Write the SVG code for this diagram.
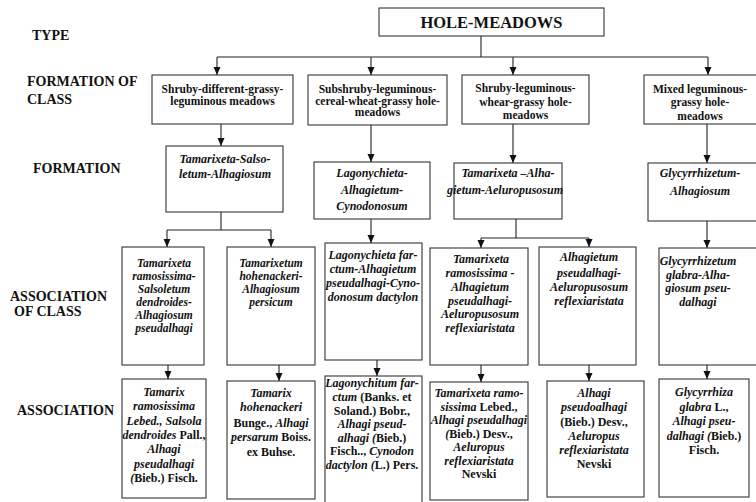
<svg xmlns="http://www.w3.org/2000/svg" width="756" height="502" viewBox="0 0 756 502" font-family="'Liberation Serif','Times New Roman','DejaVu Serif',serif">
<style>
text{font-family:"Liberation Serif","Times New Roman","DejaVu Serif",serif;font-weight:bold;fill:#111}
.lbl{font-size:14px}
.h{font-size:16.5px}
.c1{font-size:11.5px;text-anchor:middle}
.t{font-size:12px;text-anchor:middle}
.s{font-size:11.5px}
.i,.t .i{font-style:italic}
.box{fill:#fff;stroke:#333;stroke-width:1.1}
.ln{fill:none;stroke:#222;stroke-width:1.1}
.ar{fill:none;stroke:#222;stroke-width:1.1;marker-end:url(#ah)}
</style>
<defs>
<marker id="ah" markerUnits="userSpaceOnUse" markerWidth="8" markerHeight="8" refX="8" refY="4" orient="auto">
<path d="M0,0.5 L8,4 L0,7.5 z" fill="#111"/>
</marker>
</defs>
<rect width="756" height="502" fill="#fff"/>

<g id="labels">
<text class="lbl" x="32" y="40">TYPE</text>
<text class="lbl" x="27" y="86">FORMATION OF</text>
<text class="lbl" x="27" y="104">CLASS</text>
<text class="lbl" x="33" y="173">FORMATION</text>
<text class="lbl" x="10" y="301">ASSOCIATION</text>
<text class="lbl" x="14" y="316">OF CLASS</text>
<text class="lbl" x="17" y="415">ASSOCIATION</text>
</g>

<g id="connectors">
<path class="ln" d="M481,36 V57 M217,57 H708"/>
<path class="ar" d="M217,57 V75"/>
<path class="ar" d="M371,57 V75"/>
<path class="ar" d="M513,57 V75"/>
<path class="ar" d="M708,57 V75"/>
<path class="ar" d="M221,124 V146"/>
<path class="ar" d="M371,125 V162"/>
<path class="ar" d="M513,124 V163"/>
<path class="ar" d="M707,124 V163"/>
<path class="ln" d="M221,212 V230 M167,230 H271"/>
<path class="ar" d="M167,230 V247"/>
<path class="ar" d="M271,230 V247"/>
<path class="ar" d="M371,219 V243"/>
<path class="ln" d="M516,219 V238 M481,238 H589"/>
<path class="ar" d="M481,238 V248"/>
<path class="ar" d="M589,238 V247"/>
<path class="ar" d="M707,221 V248"/>
<path class="ar" d="M168,365 V379"/>
<path class="ar" d="M279,365 V381"/>
<path class="ar" d="M377,360 V376"/>
<path class="ar" d="M481,365 V382"/>
<path class="ar" d="M589,365 V381"/>
<path class="ar" d="M707,365 V379"/>
</g>

<g id="n-root">
<rect class="box" x="379" y="8" width="225" height="28"/>
<text class="h" x="491.5" y="28" text-anchor="middle">HOLE-MEADOWS</text>
</g>

<g id="n-fc1">
<rect class="box" x="152" y="75" width="141" height="49"/>
<text class="c1" x="222.5" y="92.5">Shruby-different-grassy-</text>
<text class="c1" x="222.5" y="105">leguminous meadows</text>
</g>
<g id="n-fc2">
<rect class="box" x="308" y="75" width="139" height="50"/>
<text class="c1" x="377.5" y="92.5">Subshruby-leguminous-</text>
<text class="c1" x="377.5" y="104.5">cereal-wheat-grassy hole-</text>
<text class="c1" x="377.5" y="115.5">meadows</text>
</g>
<g id="n-fc3">
<rect class="box" x="462" y="75" width="127" height="49"/>
<text class="c1" x="525.5" y="92">Shruby-leguminous-</text>
<text class="c1" x="525.5" y="105.5">whear-grassy hole-</text>
<text class="c1" x="525.5" y="119">meadows</text>
</g>
<g id="n-fc4">
<rect class="box" x="644" y="75" width="113" height="49"/>
<text class="c1" x="700" y="93">Mixed leguminous-</text>
<text class="c1" x="700" y="106">grassy hole-</text>
<text class="c1" x="700" y="120">meadows</text>
</g>

<g id="n-f1">
<rect class="box" x="166" y="146" width="117" height="66"/>
<text class="t i" x="225" y="163">Tamarixeta-Salso-</text>
<text class="t i" x="225" y="178">letum-Alhagiosum</text>
</g>
<g id="n-f2">
<rect class="box" x="314" y="162" width="116" height="57"/>
<text class="t i" x="372" y="177">Lagonychieta-</text>
<text class="t i" x="372" y="194">Alhagietum-</text>
<text class="t i" x="372" y="210">Cynodonosum</text>
</g>
<g id="n-f3">
<rect class="box" x="454" y="163" width="108" height="56"/>
<text class="t i" x="508" y="177">Tamarixeta –Alha-</text>
<text class="t i" x="505" y="194">gietum-Aeluropusosum</text>
</g>
<g id="n-f4">
<rect class="box" x="648" y="163" width="109" height="58"/>
<text class="t i" x="700" y="177">Glycyrrhizetum-</text>
<text class="t i" x="700" y="195">Alhagiosum</text>
</g>

<g id="n-ac1">
<rect class="box" x="122" y="247" width="82" height="118"/>
<text class="t i s" x="164" y="267">Tamarixeta</text>
<text class="t i s" x="164" y="280">ramosissima-</text>
<text class="t i s" x="164" y="293">Salsoletum</text>
<text class="t i s" x="164" y="306">dendroides-</text>
<text class="t i s" x="164" y="319">Alhagiosum</text>
<text class="t i s" x="164" y="332">pseudalhagi</text>
</g>
<g id="n-ac2">
<rect class="box" x="227" y="247" width="88" height="118"/>
<text class="t i s" x="271" y="267">Tamarixetum</text>
<text class="t i s" x="271" y="280">hohenackeri-</text>
<text class="t i s" x="271" y="293">Alhagiosum</text>
<text class="t i s" x="271" y="306">persicum</text>
</g>
<g id="n-ac3">
<rect class="box" x="325" y="243" width="97" height="117"/>
<text class="t i" x="373" y="259">Lagonychieta far-</text>
<text class="t i" x="373" y="273">ctum-Alhagietum</text>
<text class="t i" x="373" y="287">pseudalhagi-Cyno-</text>
<text class="t i" x="373" y="301">donosum dactylon</text>
</g>
<g id="n-ac4">
<rect class="box" x="430" y="248" width="98" height="117"/>
<text class="t i" x="481" y="263">Tamarixeta</text>
<text class="t i" x="480" y="277">ramosissima -</text>
<text class="t i" x="480" y="291">Alhagietum</text>
<text class="t i" x="480" y="304.5">pseudalhagi-</text>
<text class="t i" x="480" y="318">Aeluropusosum</text>
<text class="t i" x="480" y="332">reflexiaristata</text>
</g>
<g id="n-ac5">
<rect class="box" x="539" y="247" width="97" height="118"/>
<text class="t i" x="589" y="261">Alhagietum</text>
<text class="t i" x="589" y="277">pseudalhagi-</text>
<text class="t i" x="589" y="291">Aeluropusosum</text>
<text class="t i" x="589" y="305">reflexiaristata</text>
</g>
<g id="n-ac6">
<rect class="box" x="659" y="248" width="98" height="117"/>
<text class="t i" x="698" y="265">Glycyrrhizetum</text>
<text class="t i" x="698" y="278.5">glabra-Alha-</text>
<text class="t i" x="698" y="292">giosum pseu-</text>
<text class="t i" x="698" y="306">dalhagi</text>
</g>

<g id="n-as1">
<rect class="box" x="122" y="379" width="84" height="119"/>
<text class="t" x="164" y="396"><tspan class="i">Tamarix</tspan></text>
<text class="t" x="164" y="410"><tspan class="i">ramosissima</tspan></text>
<text class="t" x="164" y="425"><tspan class="i">Lebed., Salsola</tspan></text>
<text class="t" x="164" y="439"><tspan class="i">dendroides</tspan> Pall.,</text>
<text class="t" x="164" y="453"><tspan class="i">Alhagi</tspan></text>
<text class="t" x="164" y="468"><tspan class="i">pseudalhagi</tspan></text>
<text class="t" x="164" y="482"><tspan class="i">(</tspan>Bieb.) Fisch.</text>
</g>
<g id="n-as2">
<rect class="box" x="227" y="381" width="88" height="118"/>
<text class="t" x="271" y="397"><tspan class="i">Tamarix</tspan></text>
<text class="t" x="271" y="411"><tspan class="i">hohenackeri</tspan></text>
<text class="t" x="271" y="427">Bunge., <tspan class="i">Alhagi</tspan></text>
<text class="t" x="271" y="441"><tspan class="i">persarum</tspan> Boiss.</text>
<text class="t" x="271" y="456">ex Buhse.</text>
</g>
<g id="n-as3">
<rect class="box" x="325" y="376" width="97" height="130"/>
<text class="t" x="372" y="387"><tspan class="i">Lagonychitum far-</tspan></text>
<text class="t" x="372" y="401"><tspan class="i">ctum</tspan> (Banks. et</text>
<text class="t" x="372" y="414.5">Soland.) Bobr.,</text>
<text class="t" x="372" y="428"><tspan class="i">Alhagi pseud-</tspan></text>
<text class="t" x="372" y="441.5"><tspan class="i">alhagi (</tspan>Bieb.)</text>
<text class="t" x="372" y="455"><tspan class="i"></tspan>Fisch.., <tspan class="i">Cynodon</tspan></text>
<text class="t" x="372" y="468.5"><tspan class="i">dactylon (</tspan>L.) Pers.</text>
</g>
<g id="n-as4">
<rect class="box" x="430" y="382" width="98" height="118"/>
<text class="t" x="479" y="397"><tspan class="i">Tamarixeta ramo-</tspan></text>
<text class="t" x="479" y="410.5"><tspan class="i">sissima</tspan> Lebed.,</text>
<text class="t" x="479" y="424"><tspan class="i">Alhagi pseudalhagi</tspan></text>
<text class="t" x="479" y="437.5"><tspan class="i">(</tspan>Bieb.) Desv.,</text>
<text class="t" x="479" y="451"><tspan class="i">Aeluropus</tspan></text>
<text class="t" x="479" y="464.5"><tspan class="i">reflexiaristata</tspan></text>
<text class="t" x="479" y="478">Nevski</text>
</g>
<g id="n-as5">
<rect class="box" x="547" y="381" width="97" height="116"/>
<text class="t" x="594" y="397"><tspan class="i">Alhagi</tspan></text>
<text class="t" x="594" y="411"><tspan class="i">pseudoalhagi</tspan></text>
<text class="t" x="594" y="426">(Bieb.) Desv.,</text>
<text class="t" x="594" y="440"><tspan class="i">Aeluropus</tspan></text>
<text class="t" x="594" y="454"><tspan class="i">reflexiaristata</tspan></text>
<text class="t" x="594" y="468">Nevski</text>
</g>
<g id="n-as6">
<rect class="box" x="659" y="379" width="90" height="118"/>
<text class="t" x="704" y="396"><tspan class="i">Glycyrrhiza</tspan></text>
<text class="t" x="704" y="411"><tspan class="i">glabra</tspan> L.,</text>
<text class="t" x="704" y="425"><tspan class="i">Alhagi pseu-</tspan></text>
<text class="t" x="704" y="440"><tspan class="i">dalhagi (</tspan>Bieb.)</text>
<text class="t" x="704" y="454">Fisch.</text>
</g>
</svg>
